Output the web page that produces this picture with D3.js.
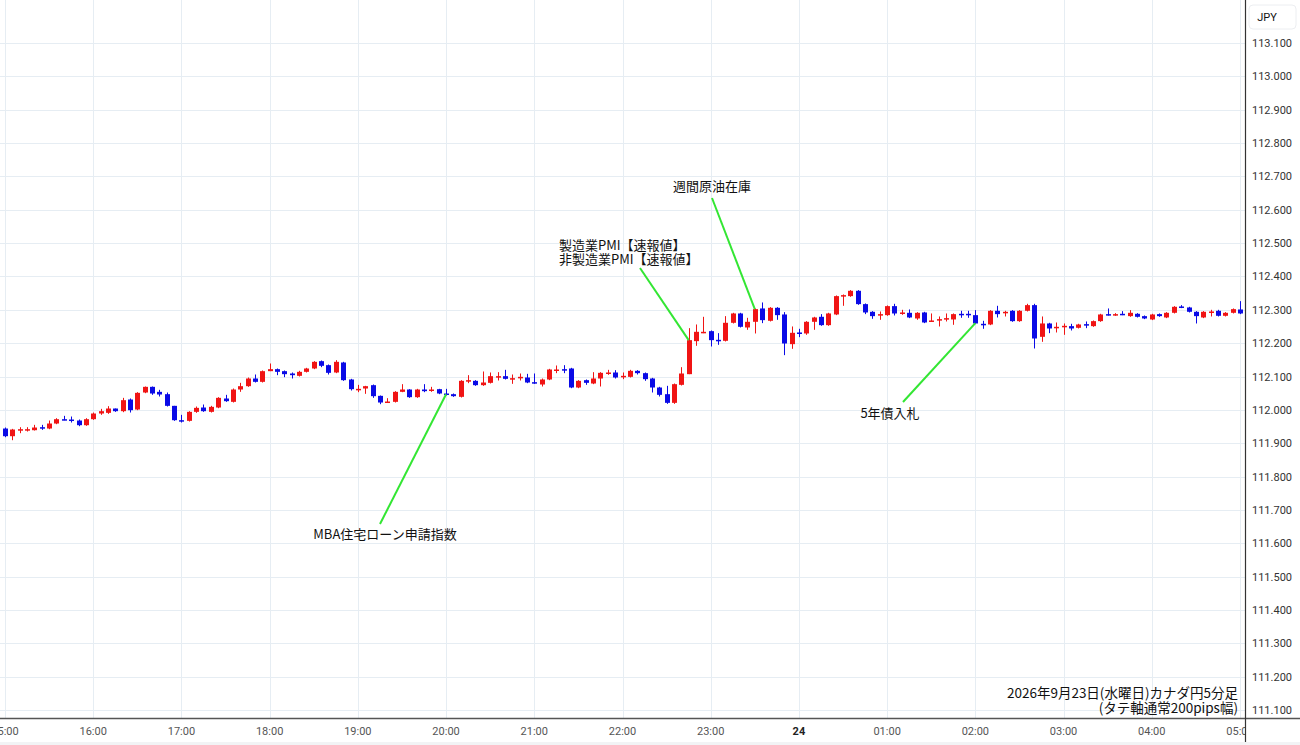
<!DOCTYPE html>
<html><head><meta charset="utf-8">
<script src="https://cdn.jsdelivr.net/npm/d3@7"></script>
<style>body{margin:0;background:#fff;font-family:"Noto Sans CJK JP","Noto Sans",sans-serif;}</style>
</head><body><div id="chart"></div>
<script>
// 5-minute candles, 15:00 -> 05:00 (index 0..168)
const opens = [111.944,111.921,111.941,111.941,111.939,111.948,111.944,111.959,111.972,111.971,111.968,111.954,
111.972,111.989,111.991,112.004,111.996,112.031,112.001,112.052,112.069,112.054,112.047,112.012,
111.969,111.967,111.994,112.007,111.994,112.007,112.034,112.024,112.061,112.071,112.094,112.084,
112.116,112.122,112.116,112.109,112.102,112.114,112.124,112.146,112.134,112.112,112.142,112.091,
112.062,112.064,112.074,112.042,112.023,112.024,112.054,112.061,112.038,112.061,112.058,112.062,
112.049,112.047,112.039,112.087,112.087,112.074,112.081,112.099,112.101,112.093,112.097,112.097,
112.083,112.076,112.091,112.119,112.122,112.124,112.067,112.089,112.079,112.094,112.110,112.112,
112.100,112.099,112.117,112.110,112.094,112.067,112.047,112.021,112.075,112.107,112.206,112.232,
112.236,112.210,112.207,112.261,112.289,112.247,112.264,112.304,112.267,112.306,112.286,112.197,
112.232,112.229,112.264,112.279,112.254,112.286,112.342,112.341,112.357,112.317,112.294,112.285,
112.284,112.311,112.290,112.291,112.274,112.292,112.266,112.270,112.273,112.271,112.288,112.288,
112.284,112.258,112.256,112.297,112.292,112.297,112.266,112.297,112.314,112.219,112.259,112.247,
112.250,112.251,112.246,112.257,112.251,112.266,112.287,112.285,112.288,112.281,112.288,112.281,
112.271,112.287,112.277,112.291,112.310,112.307,112.294,112.277,112.293,112.297,112.282,112.291,112.301];
const closes = [111.921,111.941,111.942,111.942,111.947,111.946,111.959,111.972,111.971,111.968,111.954,111.972,
111.989,111.996,112.004,111.996,112.029,111.999,112.051,112.069,112.049,112.046,112.012,111.969,
111.968,111.994,112.006,111.996,112.009,112.036,112.026,112.061,112.071,112.094,112.084,112.116,
112.122,112.114,112.107,112.104,112.114,112.124,112.144,112.132,112.111,112.144,112.089,112.062,
112.063,112.071,112.041,112.022,112.025,112.054,112.061,112.038,112.061,112.056,112.061,112.049,
112.046,112.041,112.087,112.089,112.074,112.082,112.101,112.101,112.093,112.095,112.099,112.082,
112.080,112.091,112.121,112.121,112.120,112.067,112.087,112.081,112.094,112.111,112.112,112.097,
112.102,112.117,112.110,112.092,112.067,112.045,112.021,112.077,112.109,112.209,112.234,112.234,
112.209,112.208,112.261,112.289,112.249,112.264,112.302,112.269,112.306,112.284,112.199,112.231,
112.230,112.264,112.277,112.254,112.289,112.341,112.344,112.357,112.317,112.292,112.281,112.287,
112.311,112.289,112.292,112.277,112.291,112.262,112.268,112.272,112.275,112.287,112.286,112.286,
112.259,112.256,112.297,112.287,112.294,112.266,112.297,112.314,112.214,112.259,112.244,112.249,
112.252,112.244,112.256,112.255,112.266,112.286,112.285,112.287,112.286,112.291,112.279,112.274,
112.286,112.281,112.291,112.309,112.308,112.294,112.281,112.294,112.295,112.282,112.291,112.302,112.289];
const highs = [111.947,111.943,111.948,111.948,111.955,111.955,111.968,111.975,111.982,111.980,111.971,111.975,
111.992,112.003,112.011,112.004,112.036,112.034,112.053,112.070,112.070,112.060,112.052,112.012,
111.985,111.996,112.010,112.016,112.012,112.038,112.045,112.064,112.081,112.097,112.106,112.118,
112.139,112.124,112.118,112.112,112.117,112.126,112.146,112.148,112.136,112.149,112.144,112.093,
112.075,112.072,112.076,112.043,112.035,112.056,112.077,112.062,112.063,112.077,112.069,112.063,
112.063,112.049,112.089,112.104,112.089,112.115,112.112,112.113,112.120,112.106,112.109,112.108,
112.109,112.094,112.123,112.133,112.134,112.126,112.089,112.091,112.113,112.113,112.120,112.119,
112.112,112.120,112.119,112.112,112.096,112.069,112.072,112.079,112.128,112.245,112.256,112.279,
112.238,112.230,112.281,112.291,112.291,112.276,112.304,112.322,112.308,112.308,112.293,112.250,
112.243,112.266,112.279,112.287,112.291,112.343,112.346,112.359,112.359,112.319,112.296,112.295,
112.313,112.318,112.300,112.301,112.293,112.294,112.289,112.280,112.289,112.289,112.297,112.297,
112.299,112.267,112.299,112.312,112.297,112.299,112.299,112.318,112.318,112.280,112.261,112.262,
112.259,112.258,112.258,112.265,112.268,112.288,112.304,112.290,112.296,112.299,112.290,112.283,
112.288,112.289,112.293,112.311,112.314,112.309,112.296,112.296,112.300,112.300,112.293,112.304,112.326];
const lows = [111.918,111.909,111.930,111.935,111.938,111.940,111.942,111.957,111.969,111.962,111.951,111.952,
111.970,111.985,111.988,111.994,111.993,111.992,111.999,112.050,112.045,112.040,112.010,111.967,
111.962,111.965,111.991,111.994,111.992,112.005,112.024,112.022,112.054,112.069,112.082,112.082,
112.116,112.104,112.098,112.094,112.100,112.112,112.122,112.128,112.106,112.110,112.087,112.058,
112.053,112.048,112.036,112.017,112.022,112.022,112.053,112.036,112.036,112.053,112.054,112.047,
112.043,112.039,112.037,112.080,112.072,112.072,112.079,112.088,112.091,112.078,112.088,112.080,
112.078,112.070,112.089,112.110,112.110,112.065,112.065,112.075,112.077,112.070,112.105,112.094,
112.092,112.097,112.106,112.087,112.052,112.040,112.018,112.018,112.073,112.107,112.192,112.230,
112.190,112.195,112.205,112.259,112.247,112.240,112.229,112.260,112.265,112.270,112.164,112.183,
112.218,112.225,112.240,112.252,112.252,112.284,112.312,112.339,112.315,112.287,112.273,112.270,
112.282,112.283,112.285,112.275,112.270,112.260,112.265,112.250,112.265,112.255,112.276,112.276,
112.257,112.243,112.254,112.277,112.280,112.264,112.264,112.295,112.184,112.204,112.230,112.232,
112.225,112.238,112.244,112.245,112.249,112.264,112.283,112.282,112.284,112.279,112.277,112.272,
112.269,112.279,112.275,112.289,112.305,112.292,112.259,112.275,112.280,112.280,112.280,112.289,112.287];
const hourLabels = ["15:00","16:00","17:00","18:00","19:00","20:00","21:00","22:00","23:00","24",
  "01:00","02:00","03:00","04:00","05:00"];
const priceTicks = d3.range(0, 21).map(i => +(111.1 + i * 0.1).toFixed(3));
const notes = [
  {lines: ["MBA住宅ローン申請指数"], at: 60, tx: 385, ty: 539, anchor: "middle", lx: 380, ly: 524},
  {lines: ["製造業PMI【速報値】", "非製造業PMI【速報値】"], at: 93, tx: 559, ty: 250, anchor: "start", lx: 640, ly: 268},
  {lines: ["週間原油在庫"], at: 102, tx: 712, ty: 191, anchor: "middle", lx: 712, ly: 198},
  {lines: ["5年債入札"], at: 132, tx: 890, ty: 418, anchor: "middle", lx: 903, ly: 402}
];
const noteAnchor = [112.047, 112.209, 112.302, 112.260];

const W = 1300, H = 745, plotR = 1245, plotB = 718;
const svg = d3.select("#chart").append("svg").attr("width", W).attr("height", H);
const x = d3.scaleLinear().domain([0, 168]).range([5, 1240]);
const y = d3.scaleLinear().domain([111.1, 113.1]).range([710, 43]);

svg.append("defs").append("clipPath").attr("id", "plot")
  .append("rect").attr("x", 0).attr("y", 0).attr("width", plotR).attr("height", H);

// grid
const grid = svg.append("g").attr("stroke", "#e6edf3").attr("stroke-width", 1);
grid.selectAll(".hg").data(priceTicks).join("line")
  .attr("x1", 0).attr("x2", plotR).attr("y1", d => Math.round(y(d)) + 0.5).attr("y2", d => Math.round(y(d)) + 0.5);
grid.selectAll(".vg").data(hourLabels).join("line")
  .attr("x1", (d, i) => Math.round(x(i * 12)) + 0.5).attr("x2", (d, i) => Math.round(x(i * 12)) + 0.5)
  .attr("y1", 0).attr("y2", plotB);

// bottom strip
svg.append("rect").attr("x", 0).attr("y", 742).attr("width", W).attr("height", 3).attr("fill", "#f2f3f5");

// candles
const up = "#f01414", down = "#0a0ae6";
const c = svg.append("g").attr("clip-path", "url(#plot)");
const idx = d3.range(opens.length);
c.selectAll(".wick").data(idx).join("line")
  .attr("x1", i => Math.round(x(i)) + 0.5).attr("x2", i => Math.round(x(i)) + 0.5)
  .attr("y1", i => y(highs[i])).attr("y2", i => y(lows[i]))
  .attr("stroke", i => closes[i] >= opens[i] ? up : down).attr("stroke-width", 1);
c.selectAll(".body").data(idx).join("rect")
  .attr("x", i => Math.round(x(i)) - 2).attr("width", 5)
  .attr("y", i => y(Math.max(opens[i], closes[i])))
  .attr("height", i => Math.max(1.5, Math.abs(y(opens[i]) - y(closes[i]))))
  .attr("fill", i => closes[i] >= opens[i] ? up : down);

// annotations
const ann = svg.append("g");
notes.forEach((n, k) => {
  ann.append("line").attr("x1", n.lx).attr("y1", n.ly)
    .attr("x2", x(n.at)).attr("y2", y(noteAnchor[k]))
    .attr("stroke", "#33e633").attr("stroke-width", 2);
  n.lines.forEach((t, j) => ann.append("text").attr("x", n.tx).attr("y", n.ty + j * 14)
    .attr("text-anchor", n.anchor).attr("font-size", 13).attr("fill", "#111").text(t));
});

// axes lines
svg.append("line").attr("x1", 0).attr("x2", W).attr("y1", plotB + 0.5).attr("y2", plotB + 0.5)
  .attr("stroke", "#555").attr("stroke-width", 1.5);
svg.append("line").attr("x1", plotR + 0.5).attr("x2", plotR + 0.5).attr("y1", 0).attr("y2", 742)
  .attr("stroke", "#333").attr("stroke-width", 1.2);

// price axis labels
svg.append("g").selectAll("text").data(priceTicks).join("text")
  .attr("x", 1272).attr("y", d => y(d) + 4).attr("text-anchor", "middle")
  .attr("font-size", 11).attr("fill", "#333").attr("font-family", "Roboto, sans-serif")
  .text(d => d.toFixed(3));
svg.append("rect").attr("x", 1249).attr("y", 5).attr("width", 47).attr("height", 24).attr("rx", 4)
  .attr("fill", "#fff").attr("stroke", "#eceef1");
svg.append("text").attr("x", 1267).attr("y", 21).attr("text-anchor", "middle")
  .attr("font-size", 11).attr("fill", "#111").attr("font-family", "Roboto, sans-serif").text("JPY");

// time labels
svg.append("g").attr("clip-path", "url(#plot)").selectAll("text").data(hourLabels).join("text")
  .attr("x", (d, i) => x(i * 12)).attr("y", 735).attr("text-anchor", "middle")
  .attr("font-size", 11).attr("font-family", "Roboto, sans-serif")
  .attr("font-weight", d => d === "24" ? "bold" : "normal")
  .attr("fill", d => d === "24" ? "#222" : "#555").text(d => d);

// caption
svg.append("text").attr("x", 1238).attr("y", 698).attr("text-anchor", "end")
  .attr("font-size", 13.5).attr("fill", "#111").text("2026年9月23日(水曜日)カナダ円5分足");
svg.append("text").attr("x", 1238).attr("y", 713).attr("text-anchor", "end")
  .attr("font-size", 13.5).attr("fill", "#111").text("(タテ軸通常200pips幅)");
</script></body></html>
